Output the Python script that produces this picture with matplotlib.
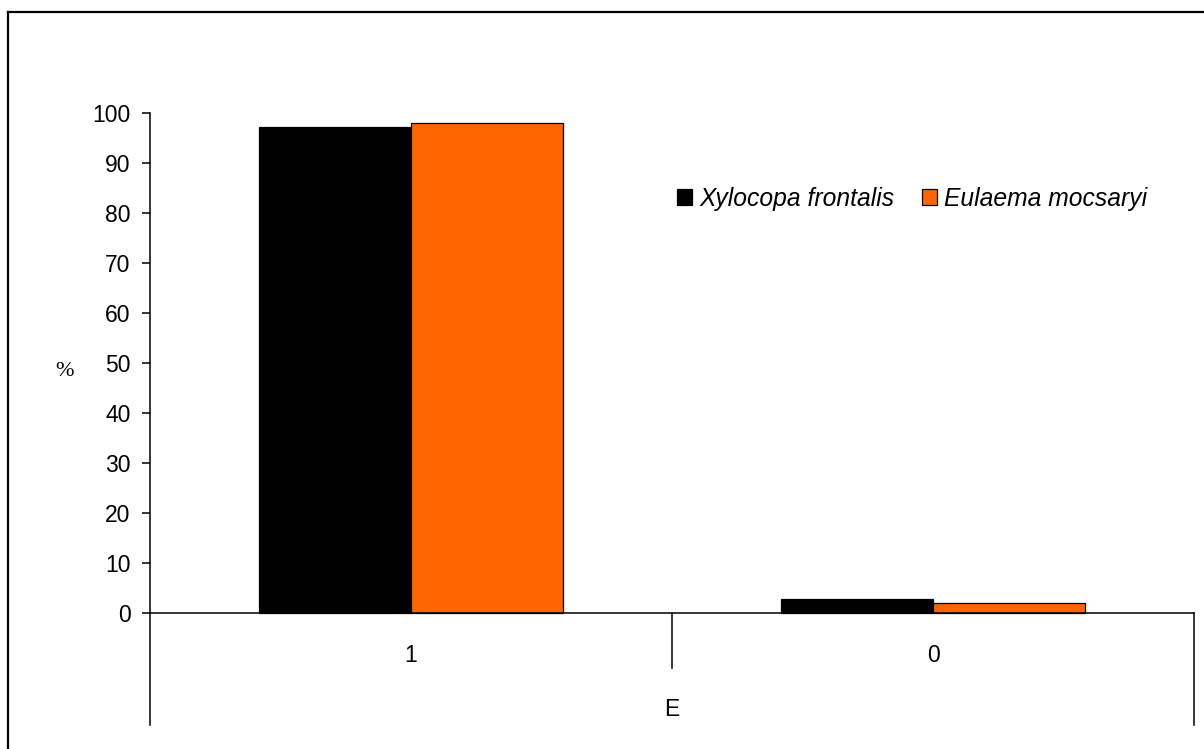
import numpy as np
import matplotlib
matplotlib.use('Agg')
import matplotlib.pyplot as plt
from matplotlib.lines import Line2D

plt.rcParams['font.family'] = 'Liberation Sans'

# data
categories = ['1', '0']
series_names = ['Xylocopa frontalis', 'Eulaema mocsaryi']
xylocopa = [97.2, 2.8]
eulaema = [98.0, 2.0]
colors = ['#000000', '#FF6600']
yticks = list(range(0, 101, 10))

W, H = 1204, 749
fig = plt.figure(figsize=(W / 100, H / 100), dpi=100)
fig.patch.set_facecolor('white')

# axes box in pixels: x 150..1194, y 113 (=100) .. 613 (=0)
ax = fig.add_axes([150 / W, 1 - 613 / H, (1194 - 150) / W, (613 - 113) / H])

x = np.arange(len(categories))
bw = 0.291
for i, (vals, name) in enumerate([(xylocopa, series_names[0]), (eulaema, series_names[1])]):
    ax.bar(x + (i - 0.5) * bw, vals, bw, color=colors[i], edgecolor='black',
           linewidth=0.9, label=name, zorder=3, clip_on=False)

ax.set_xlim(-0.5, len(categories) - 0.5)
ax.set_ylim(0, 100)
ax.set_yticks(yticks)
ax.tick_params(axis='y', direction='out', length=6, width=1.1, pad=8, labelsize=16.5)
ax.set_xticks(x)
ax.set_xticklabels(categories)
ax.tick_params(axis='x', length=0, pad=22, labelsize=16.5)

for s in ['top', 'right']:
    ax.spines[s].set_visible(False)
ax.spines['left'].set_linewidth(1.1)
ax.spines['bottom'].set_linewidth(1.1)
ax.spines['bottom'].set_zorder(4)

# extended axis line and category separators below the zero line
low = -(725 - 613) / 5.0
mid_low = -(668 - 613) / 5.0
ax.plot([-0.5, -0.5], [0, low], color='black', lw=1.1, clip_on=False)
ax.plot([len(categories) - 0.5] * 2, [0, low], color='black', lw=1.1, clip_on=False)
ax.plot([0.5, 0.5], [0, mid_low], color='black', lw=1.1, clip_on=False)

fig.text(64 / W, 1 - 372 / H, '%', fontsize=16, family='Liberation Serif',
         ha='center', va='center')
fig.text(672 / W, 1 - 710 / H, 'E', fontsize=16.5, ha='center', va='center')

leg = fig.legend(loc='center left', bbox_to_anchor=(677 / W, 1 - 199 / H),
                 ncol=2, frameon=False,
                 prop={'style': 'italic', 'size': 17.7},
                 handlelength=0.62, handleheight=0.62, handletextpad=0.3,
                 columnspacing=1.1, borderpad=0, borderaxespad=0)

# outer chart border (cut off at the right and bottom)
fig.add_artist(Line2D([8 / W, 1.01], [1 - 12 / H, 1 - 12 / H], color='black',
                      lw=1.6, transform=fig.transFigure))
fig.add_artist(Line2D([8 / W, 8 / W], [1 - 12 / H, -0.01], color='black',
                      lw=1.6, transform=fig.transFigure))

fig.savefig('out.png', dpi=100, facecolor='white')
